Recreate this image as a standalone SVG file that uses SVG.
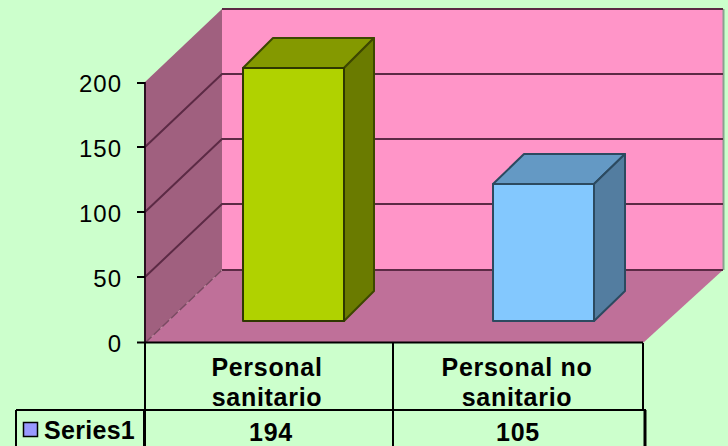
<svg xmlns="http://www.w3.org/2000/svg" width="728" height="446" viewBox="0 0 728 446">
<style>
text{font-family:"Liberation Sans",Arial,sans-serif;fill:#000}
.ax{font-size:24px;text-anchor:end;letter-spacing:1px}
.b{font-size:25px;font-weight:bold;text-anchor:middle;letter-spacing:.7px}
.grid{stroke:#5c2a45;stroke-width:2;fill:none}
.tb{stroke:#000;stroke-width:2;fill:none}
.edge{stroke-linejoin:round;stroke-width:2}
</style>
<rect width="728" height="446" fill="#ccffcc"/>
<g id="chart-walls">
<rect x="222" y="9" width="501" height="261" fill="#ff95c8"/>
<polygon points="145,82 222,9 222,270 145,343" fill="#a0607f"/>
<polygon points="145,343 222,270 723,270 643,343" fill="#bf7099"/>
<path d="M723.500 9V270" stroke="#8aa08f" stroke-width="2" fill="none"/>
</g>
<g id="connectors">
<path class="grid" d="M222 9H723M145 147L222 74H723M145 212L222 139H723M145 277L222 204H723M222 270H723"/>
<path d="M145 343L222 270" stroke="#7a4a62" stroke-width="1.500" stroke-dasharray="9 3" fill="none"/>
<path d="M145 82V343" stroke="#2a1020" stroke-width="2" fill="none"/>
<path class="tb" d="M137 83H145M137 147H145M137 212H145M137 277H145M137 342.500H643"/>
<path class="tb" d="M145 343V410M393 343V446M643 343V410"/>
<path class="tb" d="M16 410H646M16 410V446"/>
<path d="M144.500 410V446M645 410V446" stroke="#000" stroke-width="3" fill="none"/>
</g>
<g id="bar-personal-sanitario">
<polygon class="edge" points="243,68 273,38 374,38 344,68" fill="#849900" stroke="#3d4700"/>
<polygon class="edge" points="344,68 374,38 374,291 344,321" fill="#6a7b00" stroke="#3d4700"/>
<rect class="edge" x="243" y="68" width="101" height="253" fill="#b0d200" stroke="#2f3800"/>
</g>
<g id="bar-personal-no-sanitario">
<polygon class="edge" points="493,184 524,154 625,154 594,184" fill="#6499c4" stroke="#2c4a60"/>
<polygon class="edge" points="594,184 625,154 625,291 594,321" fill="#537da0" stroke="#2c4a60"/>
<rect class="edge" x="493" y="184" width="101" height="137" fill="#83c8fe" stroke="#2c4a60"/>
</g>
<g id="axis-labels">
<text class="ax" x="122" y="92">200</text>
<text class="ax" x="122" y="157">150</text>
<text class="ax" x="122" y="222">100</text>
<text class="ax" x="122" y="287">50</text>
<text class="ax" x="122" y="352">0</text>
</g>
<g id="category-labels">
<text class="b" x="267" y="376">Personal</text>
<text class="b" x="267" y="406">sanitario</text>
<text class="b" x="517" y="376">Personal no</text>
<text class="b" x="517" y="406">sanitario</text>
</g>
<g id="legend">
<rect x="23.500" y="422.500" width="14" height="14" fill="#9999ff" stroke="#000" stroke-width="1.500"/>
<text x="44" y="439" font-size="25" font-weight="bold" letter-spacing=".3">Series1</text>
</g>
<g id="data-values">
<text class="b" x="271" y="441">194</text>
<text class="b" x="518" y="441">105</text>
</g>
</svg>
